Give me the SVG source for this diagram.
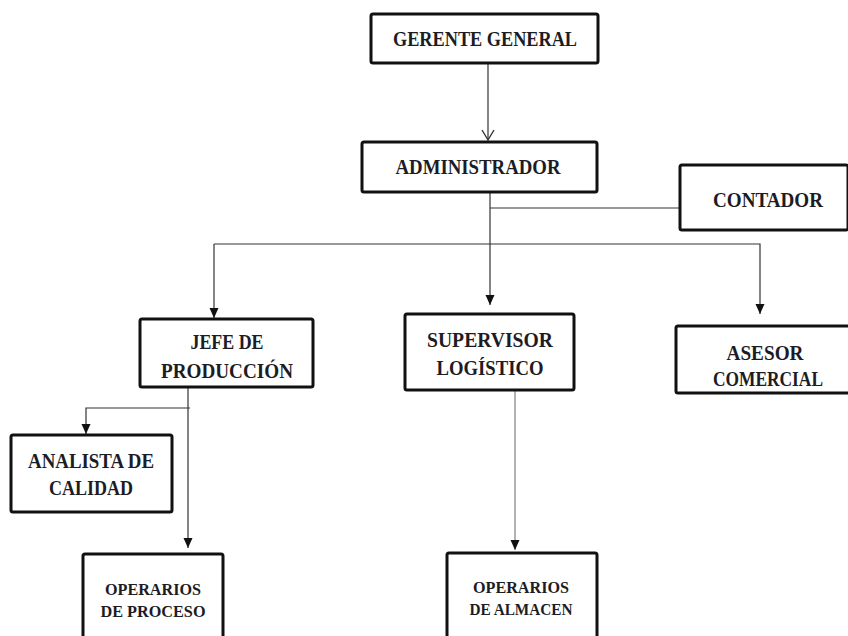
<svg xmlns="http://www.w3.org/2000/svg" width="848" height="636" viewBox="0 0 848 636">
<style>
.box{fill:#fff;stroke:#111;stroke-width:3;}
.t{font-family:"Liberation Serif","Times New Roman",serif;font-weight:bold;font-size:21px;fill:#1c1c24;text-anchor:middle;}
.s{font-size:16px;}
.c{fill:none;stroke:#333;stroke-width:1.2;}
.g{fill:none;stroke:#aaa;stroke-width:1.8;}
</style>
<defs>
<marker id="ah" markerWidth="10" markerHeight="10" refX="10" refY="5" orient="auto" markerUnits="userSpaceOnUse" viewBox="0 0 10 10">
<path d="M0,0.5 L10,5 L0,9.5 Z" fill="#111"/>
</marker>
<marker id="open" markerWidth="14" markerHeight="14" refX="12" refY="7" orient="auto" markerUnits="userSpaceOnUse" viewBox="0 0 14 14">
<path d="M2,1 L12,7 L2,13" fill="none" stroke="#333" stroke-width="1.4"/>
</marker>
</defs>
<rect width="848" height="636" fill="#fff"/>
<g id="connectors">
<line class="c" x1="488" y1="64" x2="488" y2="140" marker-end="url(#open)"/>
<line class="c" x1="490" y1="193" x2="490" y2="305" marker-end="url(#ah)"/>
<line class="c" x1="490" y1="208" x2="680" y2="208"/>
<polyline class="c" points="214,244 760,244 760,314" marker-end="url(#ah)"/>
<line class="c" x1="214" y1="244" x2="214" y2="318" marker-end="url(#ah)"/>
<line class="c" x1="188" y1="388" x2="188" y2="548" marker-end="url(#ah)"/>
<polyline class="c" points="190,408 86,408 86,434" marker-end="url(#ah)"/>
<line class="g" x1="515" y1="391" x2="515" y2="550" marker-end="url(#ah)"/>
</g>
<g id="gerente">
<rect class="box" x="371" y="14" width="227" height="49" rx="2"/>
<text class="t" x="485" y="46" textLength="184" lengthAdjust="spacingAndGlyphs">GERENTE GENERAL</text>
</g>
<g id="administrador">
<rect class="box" x="362" y="142" width="235" height="50" rx="2"/>
<text class="t" x="478" y="174" textLength="165" lengthAdjust="spacingAndGlyphs">ADMINISTRADOR</text>
</g>
<g id="contador">
<rect class="box" x="680" y="165" width="168" height="65" rx="2"/>
<text class="t" x="768" y="207" textLength="110" lengthAdjust="spacingAndGlyphs">CONTADOR</text>
</g>
<g id="jefe">
<rect class="box" x="140" y="319" width="173" height="68" rx="2"/>
<text class="t" x="227" y="349" textLength="73" lengthAdjust="spacingAndGlyphs">JEFE DE</text>
<text class="t" x="227" y="378" textLength="132" lengthAdjust="spacingAndGlyphs">PRODUCCIÓN</text>
</g>
<g id="supervisor">
<rect class="box" x="405" y="314" width="169" height="76" rx="2"/>
<text class="t" x="490" y="347" textLength="126" lengthAdjust="spacingAndGlyphs">SUPERVISOR</text>
<text class="t" x="490" y="375" textLength="107" lengthAdjust="spacingAndGlyphs">LOGÍSTICO</text>
</g>
<g id="asesor">
<rect class="box" x="676" y="326" width="174" height="67" rx="2"/>
<text class="t" x="765" y="360" textLength="77" lengthAdjust="spacingAndGlyphs">ASESOR</text>
<text class="t" x="768" y="386" textLength="110" lengthAdjust="spacingAndGlyphs">COMERCIAL</text>
</g>
<g id="analista">
<rect class="box" x="11" y="435" width="161" height="77" rx="2"/>
<text class="t" x="91" y="468" textLength="126" lengthAdjust="spacingAndGlyphs">ANALISTA DE</text>
<text class="t" x="91" y="495" textLength="84" lengthAdjust="spacingAndGlyphs">CALIDAD</text>
</g>
<g id="operarios-proceso">
<rect class="box" x="83" y="554" width="140" height="90" rx="2"/>
<text class="t s" x="153" y="595" textLength="96" lengthAdjust="spacingAndGlyphs">OPERARIOS</text>
<text class="t s" x="153" y="617" textLength="105" lengthAdjust="spacingAndGlyphs">DE PROCESO</text>
</g>
<g id="operarios-almacen">
<rect class="box" x="447" y="553" width="150" height="90" rx="2"/>
<text class="t s" x="521" y="593" textLength="96" lengthAdjust="spacingAndGlyphs">OPERARIOS</text>
<text class="t s" x="521" y="615" textLength="103" lengthAdjust="spacingAndGlyphs">DE ALMACEN</text>
</g>
</svg>
